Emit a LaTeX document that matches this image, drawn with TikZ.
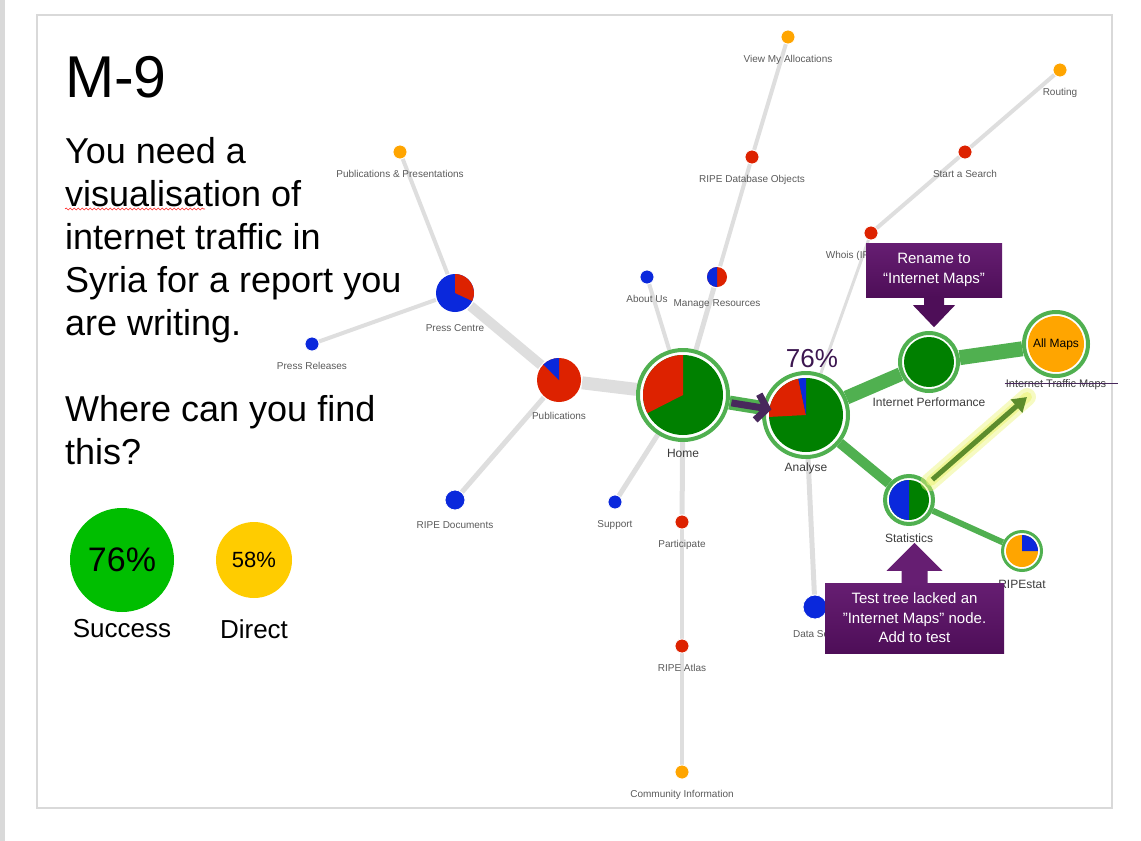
\documentclass[tikz,border=0pt]{standalone}
\usepackage{fontspec}
\setmainfont{Liberation Sans}
\usetikzlibrary{arrows.meta,backgrounds,decorations.pathmorphing}

\definecolor{pgreen}{RGB}{0,128,0}
\definecolor{pred}{RGB}{221,34,0}
\definecolor{pblue}{RGB}{10,40,220}
\definecolor{porange}{RGB}{255,165,0}
\definecolor{ringgreen}{RGB}{80,176,80}
\definecolor{edgegray}{RGB}{222,222,222}
\definecolor{lblgray}{RGB}{90,90,90}
\definecolor{hubgray}{RGB}{60,60,60}
\definecolor{notetop}{RGB}{102,30,114}
\definecolor{notebottom}{RGB}{78,14,88}
\definecolor{darkpurple}{RGB}{72,40,92}
\definecolor{pctpurple}{RGB}{60,22,80}
\definecolor{tipgreen}{RGB}{92,140,44}
\definecolor{glowyellow}{RGB}{236,244,120}
\definecolor{okgreen}{RGB}{0,190,0}
\definecolor{okyellow}{RGB}{255,204,0}

\tikzset{
  leaf/.style={circle, inner sep=0pt, minimum size=14pt, draw=white, line width=0.8pt},
  pienode/.style={circle, inner sep=0pt, fill=white},
  hub/.style={circle, inner sep=0pt, draw=ringgreen, line width=4pt, fill=white},
  leaflbl/.style={font=\fontsize{10}{12}\selectfont, text=lblgray, inner sep=1pt, label distance=10pt},
  hublbl/.style={font=\fontsize{12}{14}\selectfont, text=hubgray, inner sep=1pt, label distance=6pt},
  grayedge/.style={draw=edgegray, line width=4pt},
  greenedge/.style={draw=ringgreen},
  note/.style={rectangle, inner sep=0pt, align=center, text=white, top color=notetop, bottom color=notebottom,
    font=\fontsize{15}{19.5}\selectfont},
  bigtext/.style={anchor=north west, align=left, inner sep=0pt, font=\fontsize{36}{43}\selectfont}
}

\begin{document}
\begin{tikzpicture}[x=1pt,y=1pt]
\useasboundingbox (0,0) rectangle (1141,-841);
\fill[gray!30] (0,0) rectangle (5,-841);
\draw[gray!30, line width=1.2pt] (37,-15) rectangle (1112,-808);

% task
\node[anchor=base west, inner sep=0pt, font=\fontsize{59}{70}\selectfont] (title) at (65,-97) {M-9};
\node[bigtext] (task) at (65,-137) {You need a\\visualisation of\\internet traffic in\\Syria for a report you\\are writing.};
\draw[red!85, line width=0.6pt, decorate, decoration={snake, amplitude=1pt, segment length=4pt}] (65,-209) -- (205,-209);
\node[bigtext] (question) at (65,-395) {Where can you find\\this?};

\node[circle, fill=okgreen, inner sep=0pt, minimum size=104pt, font=\fontsize{34}{40}\selectfont,
  label={[font=\fontsize{26}{30}\selectfont, label distance=4pt]below:Success}] (success) at (122,-560) {76\%};
\node[circle, fill=okyellow, inner sep=0pt, minimum size=76pt, font=\fontsize{22}{26}\selectfont,
  label={[font=\fontsize{26}{30}\selectfont, label distance=18pt]below:Direct}] (direct) at (254,-560) {58\%};

% leaves
\node[leaf, fill=porange, label={[leaflbl]below:View My Allocations}] (allocations) at (788,-37) {};
\node[leaf, fill=porange, label={[leaflbl]below:Routing}] (routing) at (1060,-70) {};
\node[leaf, fill=pred, label={[leaflbl]below:RIPE Database Objects}] (dbobjects) at (752,-157) {};
\node[leaf, fill=pred, label={[leaflbl]below:Start a Search}] (search) at (965,-152) {};
\node[leaf, fill=porange, label={[leaflbl]below:Publications \& Presentations}] (presentations) at (400,-152) {};
\node[leaf, fill=pred, label={[leaflbl, xshift=-4pt]below:Whois (IP Lookup)}] (whois) at (871,-233) {};
\node[leaf, fill=pblue, label={[leaflbl]below:About Us}] (aboutus) at (647,-277) {};
\node[leaf, fill=pblue, label={[leaflbl]below:Press Releases}] (releases) at (312,-344) {};
\node[leaf, fill=pblue, label={[leaflbl]below:Support}] (support) at (615,-502) {};
\node[leaf, fill=pred, label={[leaflbl]below:Participate}] (participate) at (682,-522) {};
\node[leaf, fill=pred, label={[leaflbl]below:RIPE Atlas}] (atlas) at (682,-646) {};
\node[leaf, fill=porange, label={[leaflbl]below:Community Information}] (community) at (682,-772) {};
\node[leaf, fill=pblue, minimum size=20pt, label={[leaflbl]below:RIPE Documents}] (documents) at (455,-500) {};
\node[leaf, fill=pblue, minimum size=24pt, label={[leaflbl]below:Data Sets}] (datasets) at (815,-607) {};

% small pies
\node[pienode, minimum size=46pt, label={[leaflbl, label distance=8pt]below:Publications}] (publications) at (559,-380) {};
\node[pienode, minimum size=40pt, label={[leaflbl]below:Press Centre}] (presscentre) at (455,-293) {};
\node[pienode, minimum size=22pt, label={[leaflbl]below:Manage Resources}] (resources) at (717,-277) {};
\fill[pred] (publications.center) circle[radius=22pt];
\fill[pblue] (publications.center) -- ++(90:22pt) arc[start angle=90, end angle=135, radius=22pt] -- cycle;
\fill[pblue] (presscentre.center) circle[radius=19pt];
\fill[pred] (presscentre.center) -- ++(-25:19pt) arc[start angle=-25, end angle=90, radius=19pt] -- cycle;
\fill[pred] (resources.center) circle[radius=10pt];
\fill[pblue] (resources.center) -- ++(90:10pt) arc[start angle=90, end angle=270, radius=10pt] -- cycle;

% hubs
\node[hub, minimum size=90pt, label={[hublbl]below:Home}] (home) at (683,-395) {};
\node[hub, minimum size=84pt, label={[hublbl, label distance=3pt]below:Analyse},
  label={[font=\fontsize{26}{30}\selectfont, text=pctpurple, inner sep=1pt, label distance=2pt, xshift=6pt]above:76\%}] (analyse) at (806,-415) {};
\node[hub, minimum size=58pt, label={[hublbl, label distance=4pt]below:Internet Performance}] (inetperf) at (929,-362) {};
\node[hub, minimum size=64pt, label={[hublbl, name=trafficmaps, label distance=0pt, font=\fontsize{11}{13}\selectfont]below:Internet Traffic Maps}] (allmaps) at (1056,-344) {};
\node[hub, minimum size=48pt, label={[hublbl, label distance=7pt]below:Statistics}] (stats) at (909,-500) {};
\node[hub, line width=3pt, minimum size=39pt, label={[hublbl, label distance=7pt]below:RIPEstat}] (ripestat) at (1022,-551) {};

\fill[pgreen] (home.center) circle[radius=40pt];
\fill[pred] (home.center) -- ++(90:40pt) arc[start angle=90, end angle=207, radius=40pt] -- cycle;
\fill[pgreen] (analyse.center) circle[radius=37pt];
\fill[pred] (analyse.center) -- ++(102:37pt) arc[start angle=102, end angle=183, radius=37pt] -- cycle;
\fill[pblue] (analyse.center) -- ++(90:37pt) arc[start angle=90, end angle=102, radius=37pt] -- cycle;
\fill[pgreen] (inetperf.center) circle[radius=25pt];
\fill[porange] (allmaps.center) circle[radius=28pt];
\node[font=\fontsize{12}{14}\selectfont] (allmapstext) at (allmaps.center) {All Maps};
\fill[pgreen] (stats.center) circle[radius=20pt];
\fill[pblue] (stats.center) -- ++(90:20pt) arc[start angle=90, end angle=270, radius=20pt] -- cycle;
\fill[porange] (ripestat.center) circle[radius=16pt];
\fill[pblue] (ripestat.center) -- ++(0:16pt) arc[start angle=0, end angle=90, radius=16pt] -- cycle;

% connectors
\begin{scope}[on background layer]
  \draw[grayedge, line width=13pt] (home) -- (publications);
  \draw[grayedge, line width=10pt] (publications) -- (presscentre);
  \draw[grayedge] (presscentre) -- (presentations);
  \draw[grayedge] (presscentre) -- (releases);
  \draw[grayedge, line width=5pt] (publications) -- (documents);
  \draw[grayedge, line width=5pt] (home) -- (support);
  \draw[grayedge] (home) -- (aboutus);
  \draw[grayedge, line width=5pt] (home) -- (resources);
  \draw[grayedge] (resources) -- (dbobjects);
  \draw[grayedge] (dbobjects) -- (allocations);
  \draw[grayedge, line width=5pt] (home) -- (participate);
  \draw[grayedge] (participate) -- (atlas);
  \draw[grayedge] (atlas) -- (community);
  \draw[grayedge, line width=3pt] (analyse) -- (whois);
  \draw[grayedge] (whois) -- (search);
  \draw[grayedge] (search) -- (routing);
  \draw[grayedge, line width=5pt] (analyse) -- (datasets);
  \draw[greenedge, line width=14pt] (home) -- (analyse);
  \draw[greenedge, line width=14pt] (analyse) -- (inetperf);
  \draw[greenedge, line width=15pt] (inetperf) -- (allmaps);
  \draw[greenedge, line width=10pt] (analyse) -- (stats);
  \draw[greenedge, line width=6pt] (stats) -- (ripestat);
\end{scope}

\draw[darkpurple, line width=7pt, -{Straight Barb[length=10pt, width=26pt]}, shorten <=2pt, shorten >=-9pt] (home) -- (analyse);
\draw[darkpurple, line width=1pt] ([yshift=1pt]trafficmaps.west) -- ++(113,0);

\coordinate (maptip) at (1027,-397);
\draw[glowyellow, opacity=0.45, line width=18pt, line cap=round, shorten <=1pt] (stats) -- (maptip);
\draw[glowyellow, opacity=0.6, line width=10pt, line cap=round, shorten <=3pt] (stats) -- (maptip);
\draw[tipgreen, line width=5pt, -{Triangle[length=14pt, width=17pt]}, shorten <=5pt] (stats) -- (maptip);

% callouts
\node[note, minimum width=136pt, minimum height=54pt] (renamenote) at (934,-270) {Rename to\\“Internet Maps”};
\fill[notebottom] ([xshift=-10pt, yshift=1pt]renamenote.south) -- ++(0,-9) -- ++(-11,0) -- ++(21,-22) -- ++(21,22) -- ++(-11,0) -- ++(0,9) -- cycle;
\node[note, minimum width=179pt, minimum height=70pt] (testnote) at (914.5,-618) {Test tree lacked an\\"Internet Maps" node.\\Add to test};
\fill[notetop] ([xshift=-13pt, yshift=-1pt]testnote.north) -- ++(0,13) -- ++(-15,0) -- ++(28,28) -- ++(28,-28) -- ++(-15,0) -- ++(0,-13) -- cycle;
\end{tikzpicture}
\end{document}
